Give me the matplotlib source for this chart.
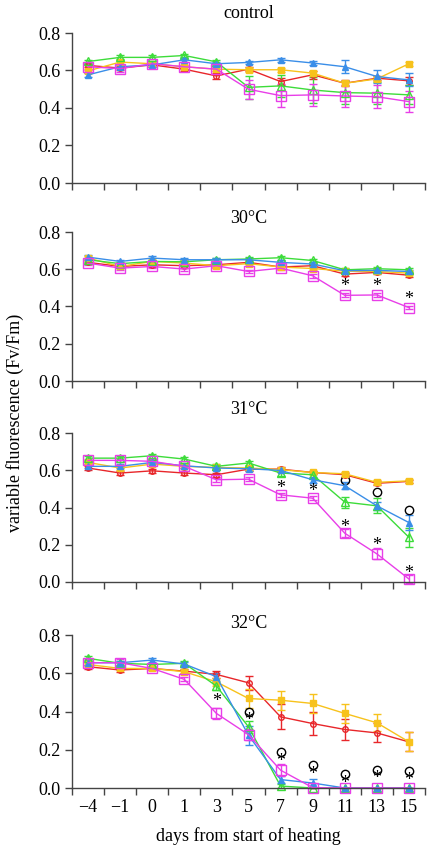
import numpy as np
import matplotlib
matplotlib.use('Agg')
import matplotlib.pyplot as plt

plt.rcParams['font.family'] = ['Liberation Serif', 'DejaVu Serif']
plt.rcParams['font.size'] = 13

days = ['\u22124', '\u22121', '0', '1', '3', '5', '7', '9', '11', '13', '15']
titles = ['control', '30\u00b0C', '31\u00b0C', '32\u00b0C']

# control
c_red = [0.627, 0.613, 0.630, 0.607, 0.571, 0.607, 0.541, 0.577, 0.532, 0.559, 0.545]
c_yel = [0.598, 0.645, 0.636, 0.620, 0.607, 0.604, 0.604, 0.586, 0.532, 0.555, 0.636]
c_grn = [0.648, 0.670, 0.670, 0.680, 0.646, 0.510, 0.518, 0.496, 0.482, 0.479, 0.470]
c_blu = [0.577, 0.620, 0.630, 0.657, 0.636, 0.643, 0.657, 0.640, 0.620, 0.568, 0.550]
c_mag = [0.620, 0.610, 0.636, 0.620, 0.607, 0.500, 0.466, 0.470, 0.464, 0.460, 0.434]
c_red_e = [0.01, 0.01, 0.01, 0.01, 0.015, 0.01, 0.02, 0.02, 0.015, 0.01, 0.02]
c_yel_e = [0.01] * 11
c_grn_e = [0.01, 0.01, 0.01, 0.01, 0.01, 0.06, 0.06, 0.07, 0.06, 0.06, 0.05]
c_blu_e = [0.01, 0.01, 0.01, 0.01, 0.01, 0.01, 0.01, 0.01, 0.035, 0.035, 0.035]
c_mag_e = [0.02, 0.02, 0.01, 0.01, 0.01, 0.05, 0.06, 0.06, 0.06, 0.06, 0.055]

# 30 C
a_red = [0.637, 0.615, 0.624, 0.619, 0.624, 0.637, 0.612, 0.619, 0.574, 0.583, 0.568]
a_yel = [0.660, 0.615, 0.642, 0.633, 0.619, 0.630, 0.612, 0.604, 0.590, 0.588, 0.579]
a_grn = [0.651, 0.630, 0.642, 0.640, 0.651, 0.655, 0.662, 0.647, 0.597, 0.603, 0.597]
a_blu = [0.665, 0.642, 0.660, 0.651, 0.651, 0.651, 0.637, 0.628, 0.592, 0.594, 0.588]
a_mag = [0.633, 0.606, 0.615, 0.601, 0.619, 0.588, 0.606, 0.565, 0.460, 0.462, 0.394]
a_err = [0.01] * 11

# 31 C
b_red = [0.612, 0.585, 0.597, 0.585, 0.576, 0.606, 0.606, 0.588, 0.576, 0.530, 0.540]
b_yel = [0.642, 0.612, 0.633, 0.621, 0.615, 0.612, 0.603, 0.588, 0.581, 0.535, 0.543]
b_grn = [0.665, 0.665, 0.678, 0.660, 0.621, 0.639, 0.585, 0.576, 0.429, 0.409, 0.240]
b_blu = [0.621, 0.621, 0.642, 0.624, 0.612, 0.608, 0.599, 0.549, 0.517, 0.409, 0.319]
b_mag = [0.653, 0.653, 0.648, 0.621, 0.549, 0.552, 0.468, 0.450, 0.262, 0.151, 0.016]
b_red_e = [0.01] * 11
b_yel_e = [0.01] * 11
b_grn_e = [0.01, 0.01, 0.01, 0.01, 0.01, 0.01, 0.015, 0.015, 0.03, 0.04, 0.05]
b_blu_e = [0.01, 0.01, 0.01, 0.01, 0.01, 0.01, 0.01, 0.015, 0.02, 0.02, 0.04]
b_mag_e = [0.01, 0.01, 0.01, 0.01, 0.01, 0.01, 0.01, 0.01, 0.02, 0.03, 0.02]

# 32 C
d_red = [0.634, 0.617, 0.625, 0.611, 0.594, 0.550, 0.372, 0.337, 0.306, 0.288, 0.241]
d_yel = [0.646, 0.625, 0.625, 0.608, 0.555, 0.468, 0.459, 0.442, 0.390, 0.341, 0.241]
d_grn = [0.678, 0.652, 0.646, 0.652, 0.533, 0.320, 0.010, 0.0, 0.0, 0.0, 0.0]
d_blu = [0.655, 0.655, 0.669, 0.648, 0.582, 0.276, 0.044, 0.026, 0.0, 0.0, 0.0]
d_mag = [0.655, 0.655, 0.625, 0.568, 0.390, 0.279, 0.093, 0.002, 0.0, 0.0, 0.0]
d_red_e = [0.01, 0.01, 0.01, 0.01, 0.02, 0.035, 0.065, 0.06, 0.055, 0.05, 0.05]
d_yel_e = [0.01, 0.01, 0.01, 0.01, 0.02, 0.05, 0.05, 0.05, 0.05, 0.045, 0.05]
d_grn_e = [0.01, 0.01, 0.01, 0.01, 0.02, 0.03, 0.01, 0.0, 0.0, 0.0, 0.0]
d_blu_e = [0.01, 0.01, 0.01, 0.01, 0.02, 0.05, 0.02, 0.02, 0.0, 0.0, 0.0]
d_mag_e = [0.02, 0.02, 0.01, 0.01, 0.03, 0.03, 0.03, 0.0, 0.0, 0.0, 0.0]

# significance marks: (day index, y)
stars = [[], [(8, 0.507), (9, 0.51), (10, 0.439)],
         [(6, 0.50), (7, 0.486), (8, 0.294), (9, 0.196), (10, 0.047)],
         [(4, 0.45), (5, 0.355), (6, 0.14), (7, 0.07), (8, 0.026), (9, 0.049), (10, 0.037)]]
rings = [[], [],
         [(8, 0.545), (9, 0.483), (10, 0.387)],
         [(5, 0.40), (6, 0.19), (7, 0.122), (8, 0.075), (9, 0.096), (10, 0.087)]]

panels = [
    [(c_red, c_red_e), (c_yel, c_yel_e), (c_grn, c_grn_e), (c_blu, c_blu_e), (c_mag, c_mag_e)],
    [(a_red, a_err), (a_yel, a_err), (a_grn, a_err), (a_blu, a_err), (a_mag, a_err)],
    [(b_red, b_red_e), (b_yel, b_yel_e), (b_grn, b_grn_e), (b_blu, b_blu_e), (b_mag, b_mag_e)],
    [(d_red, d_red_e), (d_yel, d_yel_e), (d_grn, d_grn_e), (d_blu, d_blu_e), (d_mag, d_mag_e)],
]

styles = [
    dict(color='#e8262a', marker='o', ms=4, mfc='none', mew=1.0),
    dict(color='#f7c21c', marker='s', ms=5, mfc='#f7c21c', mew=1.0),
    dict(color='#3ddc3a', marker='^', ms=6, mfc='none', mew=1.0),
    dict(color='#3a8ee8', marker='^', ms=4, mfc='#3a8ee8', mew=1.0),
    dict(color='#e83ee8', marker='s', ms=7, mfc='none', mew=1.0),
]

fig = plt.figure(figsize=(4.34, 8.46), dpi=100)
tops = [33, 232, 433, 635]
bots = [183, 381, 582, 788]
title_y = [13, 218, 410, 623]
x = np.arange(len(days))

for p in range(4):
    ax = fig.add_axes([72 / 434, 1 - bots[p] / 846, 353 / 434, (bots[p] - tops[p]) / 846])
    for (vals, errs), st in zip(panels[p], styles):
        ax.errorbar(x, vals, yerr=errs, lw=1.0, elinewidth=1.0, capsize=3,
                    capthick=1.0, clip_on=False, **st)
    for i, yv in stars[p]:
        ax.text(i, yv, '*', ha='center', va='center', fontsize=13)
    if rings[p]:
        ri, ry = zip(*rings[p])
        ax.plot(ri, ry, ls='none', marker='o', ms=6, mfc='none', mec='black',
                mew=1.0, clip_on=False)
    ax.set_xlim(-0.5, 10.5)
    ax.set_ylim(0, 0.8)
    ax.set_yticks([0, 0.2, 0.4, 0.6, 0.8])
    ax.set_yticklabels(['0.0', '0.2', '0.4', '0.6', '0.8'])
    ax.set_xticks(np.arange(-0.5, 11, 1))
    ax.set_xticklabels([])
    ax.set_xticks(x, minor=True)
    if p == 3:
        ax.set_xticklabels(days, minor=True)
    ax.tick_params(axis='x', which='minor', length=0, pad=8, labelsize=13)
    ax.tick_params(axis='both', which='major', direction='out', length=5,
                   width=1, color='#444444', labelsize=13)
    for s in ['top', 'right']:
        ax.spines[s].set_visible(False)
    for s in ['left', 'bottom']:
        ax.spines[s].set_color('#444444')
        ax.spines[s].set_linewidth(1)
    fig.text(0.5 * (72 + 425) / 434, 1 - title_y[p] / 846, titles[p],
             ha='center', va='center', fontsize=13)

fig.text(15 / 434, 0.5, 'variable fluorescence (Fv/Fm)', rotation=90,
         ha='center', va='center', fontsize=13)
fig.text(0.5 * (72 + 425) / 434, 1 - 836 / 846, 'days from start of heating',
         ha='center', va='center', fontsize=13)

fig.savefig('out.png', dpi=100)
